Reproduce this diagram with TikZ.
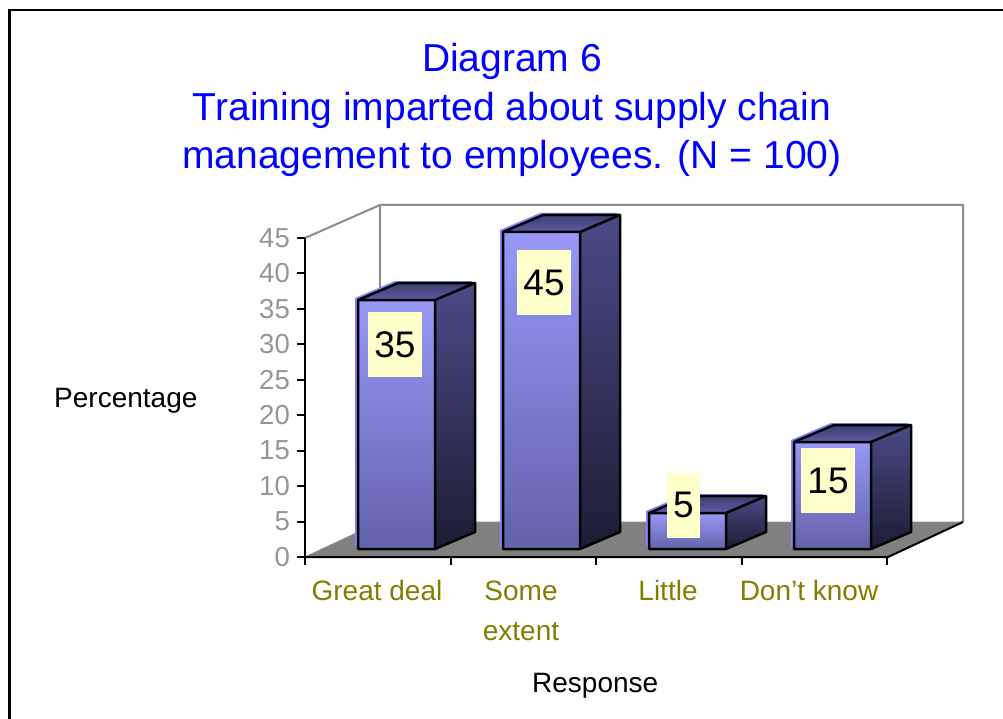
\documentclass[tikz,border=0pt]{standalone}
\usepackage{fontspec}
\setmainfont{Liberation Sans}

\definecolor{titleblue}{RGB}{0,0,255}
\definecolor{olivetext}{RGB}{128,128,0}
\definecolor{tickgray}{RGB}{150,150,150}
\definecolor{wallgray}{RGB}{140,140,140}
\definecolor{floorgray}{RGB}{128,128,128}
\definecolor{labelyellow}{RGB}{255,255,204}
\definecolor{frontlight}{RGB}{152,152,248}
\definecolor{frontdark}{RGB}{98,98,170}
\definecolor{sidelight}{RGB}{74,74,135}
\definecolor{sidedark}{RGB}{28,28,52}
\definecolor{topback}{RGB}{62,62,112}
\definecolor{topfront}{RGB}{92,92,165}
\definecolor{barglow}{RGB}{130,130,255}

\tikzset{
  baredge/.style={line width=2.5pt,line join=round},
  axisline/.style={line width=2pt},
  wallline/.style={line width=2pt,wallgray},
  ticklabel/.style={anchor=east,inner sep=0pt,text=tickgray,font=\fontsize{27.5}{30}\selectfont},
  catlabel/.style={anchor=base,inner sep=0pt,align=center,text=olivetext,font=\fontsize{28}{40}\selectfont},
  axislabel/.style={anchor=base west,inner sep=0pt,font=\fontsize{28}{34}\selectfont},
  valbox/.style={fill=labelyellow,inner xsep=6.5pt,inner ysep=0pt,minimum height=65pt,font=\fontsize{37}{40}\selectfont}
}

% #1 = left edge of the front face, #2 = top of the front face
\newcommand{\chartbar}[2]{%
  \fill[barglow] (#1-3,547) -- (#1-3,#2-2) -- (#1+37,#2-19) -- (#1+114,#2-19) -- (#1+114,530) -- (#1+74,547) -- cycle;
  \shade[top color=frontlight,bottom color=frontdark] (#1,549) rectangle (#1+77,#2);
  \shade[top color=sidelight,bottom color=sidedark] (#1+77,549) -- (#1+117,532) -- (#1+117,#2-17) -- (#1+77,#2) -- cycle;
  \shade[top color=topback,bottom color=topfront] (#1,#2) -- (#1+40,#2-17) -- (#1+117,#2-17) -- (#1+77,#2) -- cycle;
  \draw[baredge] (#1,549) -- (#1,#2) -- (#1+40,#2-17) -- (#1+117,#2-17) -- (#1+117,532) -- (#1+77,549) -- cycle;
  \draw[baredge] (#1,#2) -- (#1+77,#2) -- (#1+77,549) (#1+77,#2) -- (#1+117,#2-17);
}

\begin{document}
\begin{tikzpicture}[x=1pt,y=-1pt]
  \useasboundingbox[fill=white] (0,0) rectangle (1003,719);
  \draw[line width=2.8pt] (9.8,719) -- (9.8,10) -- (1003,10);

  % title (base = last line)
  \node[anchor=base,inner sep=0pt,align=center,text=titleblue,font=\fontsize{39}{48.5}\selectfont] (title) at (512,169)
    {Diagram 6\\Training imparted about supply chain\\management to employees. (N = 100)};

  % walls and floor
  \draw[wallline] (305,238) -- (380,205) -- (963,205) -- (963,522);
  \draw[wallline] (380,205) -- (380,522);
  \fill[floorgray] (305,557) -- (888,557) -- (963,522) -- (380,522) -- cycle;
  \draw[wallline,line width=1pt] (305,557) -- (380,522) -- (963,522);
  \draw[axisline] (305,557) -- (888,557) -- (963,522);

  % value axis
  \draw[axisline] (305,238) -- (305,557);
  \foreach \v in {0,5,...,45} {
    \draw[axisline] (297,{557-\v*7.09}) -- (305,{557-\v*7.09});
    \node[ticklabel] (tick\v) at (290,{557-\v*7.09}) {\v};
  }
  \foreach \x in {305,450.5,596,741.5,887}
    \draw[axisline] (\x,557) -- (\x,565);

  % bars
  \foreach \bx/\by in {358/300,503/232,649/513,794/442}
    \chartbar{\bx}{\by};

  \node[valbox] (val1) at (395,344.5) {35};
  \node[valbox] (val2) at (544,282.5) {45};
  \node[valbox] (val3) at (683.5,505) {5};
  \node[valbox] (val4) at (828,480.5) {15};

  % categories
  \node[catlabel] (cat1) at (377,600) {Great deal};
  \node[catlabel] (cat2) at (521,640) {Some\\extent};
  \node[catlabel] (cat3) at (668,600) {Little};
  \node[catlabel] (cat4) at (809,600) {Don’t know};

  \node[axislabel] (ylabel) at (54,407) {Percentage};
  \node[axislabel] (xlabel) at (532,692) {Response};
\end{tikzpicture}
\end{document}
